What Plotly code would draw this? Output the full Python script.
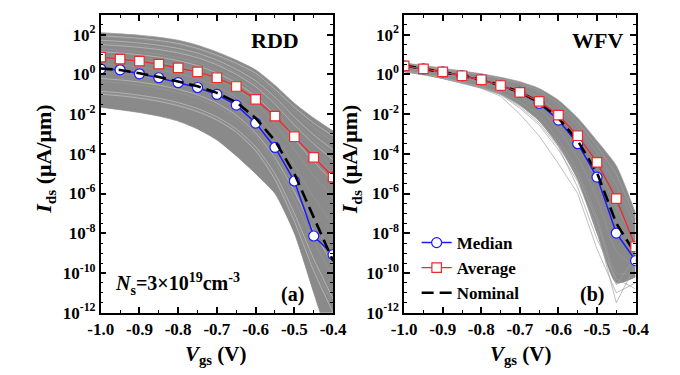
import numpy as np
import plotly.graph_objects as go

FONT = "Times New Roman, Liberation Serif, serif"

VGS = [-1.0, -0.95, -0.9, -0.85, -0.8, -0.75, -0.7, -0.65, -0.6, -0.55, -0.5, -0.45, -0.4]
X_MAJOR = [-1.0, -0.9, -0.8, -0.7, -0.6, -0.5, -0.4]
X_MAJOR_TEXT = ["-1.0", "-0.9", "-0.8", "-0.7", "-0.6", "-0.5", "-0.4"]
X_MINOR = [-0.95, -0.85, -0.75, -0.65, -0.55, -0.45]
Y_MAJOR_EXP = [-12, -10, -8, -6, -4, -2, 0, 2]

# ---- values as log10(Ids / (uA/um)) ----
# (a) RDD
RDD_MEDIAN = [0.28, 0.23, 0.03, -0.17, -0.42, -0.66, -1.01, -1.55, -2.45, -3.68, -5.37, -8.14, -9.08]
RDD_AVERAGE = [0.87, 0.77, 0.67, 0.52, 0.33, 0.13, -0.17, -0.61, -1.26, -2.10, -3.14, -4.18, -5.17]
RDD_NOMINAL = [0.30, 0.22, 0.06, -0.13, -0.36, -0.60, -0.93, -1.40, -2.20, -3.34, -5.00, -7.20, -9.40]
RDD_UPPER = [2.10, 2.04, 1.97, 1.87, 1.72, 1.47, 1.13, 0.72, 0.23, -0.55, -1.45, -2.20, -2.85]
RDD_LOWER = [-1.65, -1.78, -1.92, -2.10, -2.35, -2.75, -3.30, -4.10, -5.00, -6.00, -8.00, -11.00, -14.00]
RDD_SAMPLES = [
    [1.90, 1.84, 1.76, 1.65, 1.50, 1.25, 0.90, 0.45, -0.10, -0.90, -1.85, -2.70, -3.40],
    [1.60, 1.53, 1.45, 1.33, 1.17, 0.93, 0.57, 0.10, -0.50, -1.35, -2.40, -3.30, -4.10],
    [1.30, 1.23, 1.14, 1.02, 0.85, 0.60, 0.24, -0.25, -0.90, -1.85, -3.00, -4.10, -5.00],
    [0.90, 0.83, 0.73, 0.60, 0.42, 0.16, -0.20, -0.72, -1.45, -2.50, -3.80, -5.10, -6.20],
    [0.55, 0.47, 0.37, 0.23, 0.04, -0.22, -0.60, -1.15, -1.95, -3.10, -4.60, -6.20, -7.60],
    [0.10, 0.02, -0.09, -0.24, -0.44, -0.72, -1.12, -1.70, -2.55, -3.80, -5.50, -7.40, -9.00],
    [-0.35, -0.43, -0.55, -0.70, -0.92, -1.20, -1.62, -2.22, -3.10, -4.45, -6.30, -8.40, -10.20],
    [-0.95, -1.03, -1.15, -1.31, -1.53, -1.83, -2.25, -2.88, -3.80, -5.20, -7.20, -9.60, -11.60],
]
RDD_STREAKS = [
    [1.95, 1.89, 1.82, 1.71, 1.56, 1.31, 0.97, 0.56, 0.06, -0.75, -1.65, -2.45, -3.10],
    [1.72, 1.66, 1.58, 1.47, 1.31, 1.07, 0.72, 0.26, -0.32, -1.15, -2.15, -3.05, -3.80],
    [1.50, 1.44, 1.36, 1.25, 1.08, 0.84, 0.48, 0.00, -0.62, -1.50, -2.55, -3.50, -4.30],
    [1.15, 1.08, 0.99, 0.87, 0.69, 0.44, 0.07, -0.43, -1.10, -2.05, -3.25, -4.40, -5.40],
    [-0.85, -0.93, -1.05, -1.20, -1.42, -1.72, -2.14, -2.75, -3.65, -5.00, -7.00, -9.30, -11.30],
    [-1.00, -1.08, -1.20, -1.36, -1.58, -1.88, -2.30, -2.92, -3.85, -5.30, -7.40, -9.90, -12.00],
    [-0.20, -0.28, -0.39, -0.54, -0.75, -1.03, -1.45, -2.05, -2.95, -4.20, -5.90, -7.90, -9.60],
]

# (b) WFV
WFV_MEDIAN = [0.43, 0.28, 0.13, -0.07, -0.27, -0.56, -0.91, -1.46, -2.30, -3.49, -5.17, -7.99, -9.38]
WFV_AVERAGE = [0.43, 0.28, 0.13, -0.07, -0.27, -0.56, -0.91, -1.36, -2.05, -3.09, -4.43, -6.26, -8.68]
WFV_NOMINAL = [0.45, 0.29, 0.13, -0.06, -0.27, -0.55, -0.89, -1.40, -2.20, -3.35, -4.95, -7.50, -9.05]
WFV_UPPER = [0.57, 0.45, 0.31, 0.17, 0.03, -0.15, -0.37, -0.71, -1.30, -2.20, -3.35, -4.60, -7.00]
WFV_DENSE_LOWER = [0.13, -0.02, -0.21, -0.43, -0.68, -1.00, -1.55, -2.35, -3.60, -5.30, -8.00, -10.50, -10.20]
WFV_SAMPLES = [
    [0.50, 0.38, 0.24, 0.09, -0.07, -0.27, -0.52, -0.92, -1.62, -2.65, -3.95, -5.60, -7.70],
    [0.45, 0.32, 0.17, 0.01, -0.17, -0.40, -0.70, -1.18, -1.98, -3.10, -4.60, -6.70, -8.40],
    [0.38, 0.25, 0.09, -0.08, -0.29, -0.55, -0.90, -1.45, -2.35, -3.60, -5.40, -7.90, -9.10],
    [0.32, 0.18, 0.01, -0.18, -0.41, -0.71, -1.12, -1.75, -2.80, -4.20, -6.20, -8.90, -9.70],
    [0.25, 0.10, -0.08, -0.30, -0.56, -0.90, -1.37, -2.10, -3.30, -4.90, -7.20, -10.00, -10.00],
]
WFV_OUTLIERS = [
    [0.15, 0.00, -0.20, -0.43, -0.68, -1.02, -1.70, -2.55, -3.80, -5.40, -7.80, -11.50, -9.60],
    [0.14, -0.01, -0.21, -0.45, -0.70, -1.10, -2.00, -3.10, -4.50, -6.00, -8.80, -11.00, -10.50],
    [0.20, 0.05, -0.15, -0.38, -0.62, -0.95, -1.55, -2.30, -3.50, -5.10, -7.40, -10.60, -9.20],
    [0.18, 0.03, -0.17, -0.40, -0.65, -1.00, -1.62, -2.45, -3.65, -5.70, -8.30, -10.30, -10.80],
    [0.52, 0.40, 0.26, 0.12, -0.02, -0.20, -0.43, -0.80, -1.45, -2.40, -3.60, -5.00, -7.30],
]

GRAY_FILL = "#8a8a8a"
GRAY_LINE = "#9a9a9a"
LIGHT = "#c4c4c4"
BLUE = "#1a1aff"
RED = "#ee2a2a"


def p(vals):
    return list(np.power(10.0, np.array(vals)))


fig = go.Figure()


def add_panel(xa, ya, upper, lower, samples, streaks, median, average, nominal, legend):
    sp = dict(xaxis=xa, yaxis=ya, hoverinfo="skip", showlegend=False)
    fig.add_trace(go.Scatter(x=VGS, y=p(lower), mode="lines",
                             line=dict(color=GRAY_FILL, width=0.8, shape="spline", smoothing=0.6), **sp))
    fig.add_trace(go.Scatter(x=VGS, y=p(upper), mode="lines", fill="tonexty", fillcolor=GRAY_FILL,
                             line=dict(color=GRAY_LINE, width=0.8, shape="spline", smoothing=0.6), **sp))
    for s in samples:
        fig.add_trace(go.Scatter(x=VGS, y=p(s), mode="lines",
                                 line=dict(color=GRAY_LINE, width=0.7, shape="spline", smoothing=0.6), **sp))
    for s in streaks:
        fig.add_trace(go.Scatter(x=VGS, y=p(s), mode="lines",
                                 line=dict(color=LIGHT if xa == "x" else "#a2a2a2", width=0.7,
                                           shape="spline" if xa == "x" else "linear", smoothing=0.6), **sp))
    fig.add_trace(go.Scatter(x=VGS, y=p(median), mode="lines+markers", name="Median",
                             xaxis=xa, yaxis=ya, showlegend=legend, legendrank=1,
                             line=dict(color=BLUE, width=1.5),
                             marker=dict(symbol="circle", size=10, color="white",
                                         line=dict(color=BLUE, width=1.2))))
    fig.add_trace(go.Scatter(x=VGS, y=p(nominal), mode="lines", name="Nominal",
                             xaxis=xa, yaxis=ya, showlegend=legend, legendrank=3,
                             line=dict(color="black", width=2.6, dash="12px,6px")))
    fig.add_trace(go.Scatter(x=VGS, y=p(average), mode="lines+markers", name="Average",
                             xaxis=xa, yaxis=ya, showlegend=legend, legendrank=2,
                             line=dict(color=RED, width=1.3),
                             marker=dict(symbol="square", size=9.5, color="white",
                                         line=dict(color=RED, width=1.2))))


add_panel("x", "y", RDD_UPPER, RDD_LOWER, RDD_SAMPLES, RDD_STREAKS,
          RDD_MEDIAN, RDD_AVERAGE, RDD_NOMINAL, False)
add_panel("x2", "y2", WFV_UPPER, WFV_DENSE_LOWER, WFV_SAMPLES, WFV_OUTLIERS,
          WFV_MEDIAN, WFV_AVERAGE, WFV_NOMINAL, True)

W, H = 680, 375
y_dom = [1 - 313 / H, 1 - 7 / H]

y_tickvals = [10.0 ** e for e in Y_MAJOR_EXP]
y_ticktext = ["10<sup>%d</sup>" % e for e in Y_MAJOR_EXP]
y_minor = [10.0 ** (k / 2) for k in range(-24, 7) if (k / 2) not in Y_MAJOR_EXP]

tickfont = dict(family=FONT, size=17, color="black", weight="bold")


def xaxis(dom, anchor):
    return dict(domain=dom, anchor=anchor, range=[-1.0, -0.4], tickvals=X_MAJOR, ticktext=X_MAJOR_TEXT,
                showline=True, linecolor="black", linewidth=1.5, mirror="ticks",
                ticks="inside", ticklen=6, tickwidth=1.5, tickcolor="black",
                minor=dict(tickvals=X_MINOR, ticks="inside", ticklen=3, tickwidth=1.2, tickcolor="black"),
                showgrid=False, zeroline=False, tickfont=tickfont)


def yaxis(anchor):
    return dict(domain=y_dom, anchor=anchor, type="log", range=[-12, 3],
                tickvals=y_tickvals, ticktext=y_ticktext,
                showline=True, linecolor="black", linewidth=1.5, mirror="ticks",
                ticks="inside", ticklen=6, tickwidth=1.5, tickcolor="black",
                minor=dict(tickvals=y_minor, ticks="inside", ticklen=3, tickwidth=1.2, tickcolor="black"),
                showgrid=False, zeroline=False, tickfont=tickfont)


def ann(x, y, text, size, angle=0, xanchor="center"):
    return dict(x=x / W, y=1 - y / H, xref="paper", yref="paper", text=text, showarrow=False,
                xanchor=xanchor, yanchor="middle", textangle=angle,
                font=dict(family=FONT, size=size, color="black", weight="bold"))


annotations = [
    ann(265, 33, "RDD", 22),
    ann(600, 33, "WFV", 22),
    ann(283, 294, "(a)", 20),
    ann(595, 294, "(b)", 20),
    ann(96, 284, "<i>N</i><sub>s</sub>=3×10<sup>19</sup>cm<sup>-3</sup>", 20, xanchor="left"),
    ann(25, 155, "<i>I</i><sub>ds</sub> (μA/μm)", 22, angle=-90),
    ann(344, 155, "<i>I</i><sub>ds</sub> (μA/μm)", 22, angle=-90),
    ann(203, 357, "<i>V</i><sub>gs</sub> (V)", 21),
    ann(520, 357, "<i>V</i><sub>gs</sub> (V)", 21),
]

fig.update_layout(
    width=W, height=H,
    margin=dict(l=0, r=0, t=0, b=0),
    paper_bgcolor="white", plot_bgcolor="white",
    font=dict(family=FONT),
    xaxis=xaxis([83 / W, 325 / W], "y"),
    yaxis=yaxis("x"),
    xaxis2=xaxis([399 / W, 640 / W], "y2"),
    yaxis2=yaxis("x2"),
    annotations=annotations,
    showlegend=True,
    legend=dict(x=412 / W, y=1 - 223 / H, xanchor="left", yanchor="top", traceorder="normal",
                bgcolor="rgba(0,0,0,0)", font=dict(family=FONT, size=17, color="black", weight="bold"),
                tracegroupgap=0, itemwidth=30),
)

fig.write_html("out.html")
